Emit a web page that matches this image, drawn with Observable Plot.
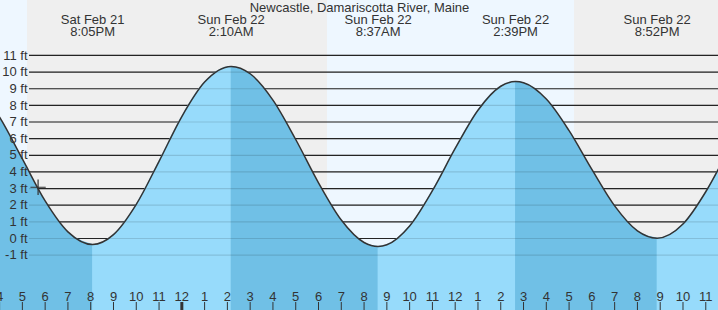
<!DOCTYPE html>
<html>
<head>
<meta charset="utf-8">
<script src="https://cdn.jsdelivr.net/npm/d3@7"></script>
<script src="https://cdn.jsdelivr.net/npm/@observablehq/plot@0.6"></script>
<style>
  html, body { margin: 0; padding: 0; background: #ffffff; }
  #chart svg { display: block; }
</style>
</head>
<body>
<div id="chart"></div>
<script>
// ---- Data (hours counted from Sat Feb 21 00:00) ----
const titleText = "Newcastle, Damariscotta River, Maine";

// Tide extremes (time, height ft) and labels
const extremeTimes = [20.083, 26.167, 32.617, 38.65, 44.867];
const extremeFeet = [-0.36, 10.34, -0.48, 9.43, 0.02];
const extremeDays = ["Sat Feb 21", "Sun Feb 22", "Sun Feb 22", "Sun Feb 22", "Sun Feb 22"];
const extremeClock = ["8:05PM", "2:10AM", "8:37AM", "2:39PM", "8:52PM"];

// Hourly readings of the tide curve (ft)
const hourTimes = [15, 16, 17, 18, 19, 21, 22, 23, 24, 25, 27, 28, 29, 30, 31, 32, 33, 34, 35, 36, 37, 38, 39, 40, 41, 42, 43, 44, 46, 47, 48];
const hourFeet = [9.19, 7.29, 4.78, 2.26, 0.40, 0.23, 2.05, 4.64, 7.33, 9.40, 9.90, 8.32, 5.95, 3.35, 1.11, -0.24, -0.38, 0.75, 2.87, 5.41, 7.71, 9.15, 9.36, 8.38, 6.48, 4.15, 1.96, 0.46, 0.87, 2.81, 5.35];

// Daylight / night shading
const shadeStart = [15, 17.225, 30.395, 41.238];
const shadeEnd = [17.225, 30.395, 41.238, 48];
const shadeKind = ["day", "night", "day", "night"];

// Axis ticks
const ftTicks = [-1, 0, 1, 2, 3, 4, 5, 6, 7, 8, 9, 10, 11];
const ftLabels = ["-1 ft", "0 ft", "1 ft", "2 ft", "3 ft", "4 ft", "5 ft", "6 ft", "7 ft", "8 ft", "9 ft", "10 ft", "11 ft"];
const hourTicks = [16, 17, 18, 19, 20, 21, 22, 23, 24, 25, 26, 27, 28, 29, 30, 31, 32, 33, 34, 35, 36, 37, 38, 39, 40, 41, 42, 43, 44, 45, 46, 47];
const hourLabels = ["4", "5", "6", "7", "8", "9", "10", "11", "12", "1", "2", "3", "4", "5", "6", "7", "8", "9", "10", "11", "12", "1", "2", "3", "4", "5", "6", "7", "8", "9", "10", "11"];
const midnightTicks = [24];

// Current time marker
const nowTime = [17.69];
const nowFeet = [3.08];

// ---- Build tables ----
const series = hourTimes.map((t, i) => ({t, h: hourFeet[i]}))
  .concat(extremeTimes.map((t, i) => ({t, h: extremeFeet[i]})))
  .sort((a, b) => a.t - b.t);

const bounds = [-Infinity, ...extremeTimes, Infinity];
const falling = [];
for (let i = 0; i < bounds.length - 1; i++) {
  const first = extremeFeet[0];
  // segment i goes from bounds[i] to bounds[i+1]; falling if ends at a low
  const endIdx = i; // extreme index at end of segment
  const isFalling = endIdx < extremeFeet.length
    ? (endIdx === 0 ? true : extremeFeet[endIdx] < extremeFeet[endIdx - 1])
    : extremeFeet[extremeFeet.length - 1] > extremeFeet[extremeFeet.length - 2];
  if (isFalling) {
    const seg = series.filter(d => d.t >= bounds[i] && d.t <= bounds[i + 1]).map(d => ({...d, seg: i}));
    falling.push(...seg);
  }
}

const shades = shadeStart.map((s, i) => ({x1: s, x2: shadeEnd[i], kind: shadeKind[i]}));
const events = extremeTimes.map((t, i) => ({t, label: extremeDays[i] + "\n" + extremeClock[i]}));

const W = 718, H = 310;
const xDomain = [16.04, 16.04 + W / 22.78];
const yDomain = [-72 / 16.64, 238 / 16.64];
const yBottom = yDomain[0];

const ink = "#333333";
const lightFill = "#97dbfb";
const darkFill = "#70c0e6";

const chart = Plot.plot({
  width: W,
  height: H,
  margin: 0,
  style: {fontFamily: "'Liberation Sans', Arial, sans-serif", fontSize: "13px", color: ink, background: "transparent"},
  x: {domain: xDomain, axis: null},
  y: {domain: yDomain, axis: null},
  marks: [
    Plot.rect(shades, {x1: "x1", x2: "x2", fill: d => d.kind === "day" ? "#eef7ff" : "#efefef", clip: true}),
    Plot.ruleY(ftTicks, {y: d => d, stroke: "#2a2a2a", strokeWidth: 1.2, insetLeft: 29}),
    Plot.areaY(series, {x: "t", y1: () => yBottom, y2: "h", fill: lightFill, curve: "monotone-x", clip: true}),
    Plot.areaY(falling, {x: "t", y1: () => yBottom, y2: "h", z: "seg", fill: darkFill, curve: "monotone-x", clip: true}),
    Plot.ruleY(ftTicks, {y: d => d, stroke: "#000", strokeOpacity: 0.13, strokeWidth: 1.2, insetLeft: 29}),
    Plot.line(series, {x: "t", y: "h", stroke: ink, strokeWidth: 1.5, curve: "monotone-x", clip: true}),
    Plot.dot(nowTime, {x: d => d, y: (d, i) => nowFeet[i], symbol: "plus", r: 5, stroke: ink, strokeWidth: 1.2}),
    Plot.text(ftTicks, {y: d => d, text: (d, i) => ftLabels[i], frameAnchor: "left", dx: 27, textAnchor: "end", fill: ink}),
    Plot.tickX(hourTicks, {x: d => d, insetTop: 302, stroke: ink, strokeWidth: 1}),
    Plot.tickX(midnightTicks, {x: d => d, insetTop: 302, stroke: ink, strokeWidth: 3}),
    Plot.text(hourTicks, {x: d => d, text: (d, i) => hourLabels[i], frameAnchor: "bottom", lineAnchor: "bottom", dy: -10, fill: ink, clip: true}),
    Plot.text(events, {x: "t", text: "label", frameAnchor: "top", lineAnchor: "top", dy: 15, lineHeight: 0.92, fill: ink}),
    Plot.text([titleText], {text: d => d, frameAnchor: "top", lineAnchor: "top", dy: 2, fill: ink})
  ]
});
document.getElementById("chart").appendChild(chart);
</script>
</body>
</html>
